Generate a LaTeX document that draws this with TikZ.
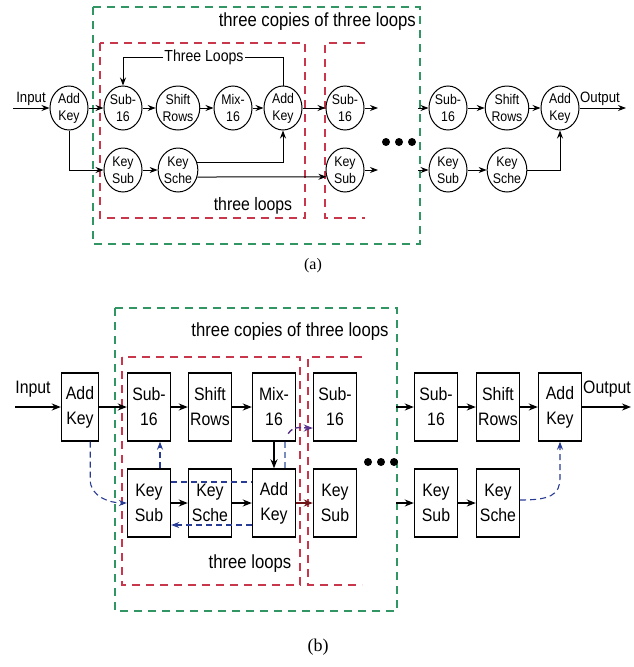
\documentclass[tikz,border=0pt]{standalone}
\usepackage{fontspec}
\setmainfont{Liberation Sans}[FakeStretch=0.88]
\newfontfamily\capfont{Liberation Serif}
\usetikzlibrary{shapes.geometric,arrows.meta}
\definecolor{grn}{RGB}{50,150,100}
\definecolor{rd}{RGB}{200,55,75}
\definecolor{blu}{RGB}{40,60,150}
\definecolor{lblu}{RGB}{120,140,190}
\definecolor{purp}{RGB}{90,50,140}
\definecolor{dred}{RGB}{110,20,25}
\tikzset{
  circ/.style={ellipse, draw, line width=1pt, minimum width=38pt, minimum height=44pt,
    inner sep=0pt, align=center, font=\fontsize{14}{17}\selectfont},
  blk/.style={rectangle, draw, line width=1.4pt, minimum width=43pt, minimum height=68pt,
    inner sep=0pt, align=center, font=\fontsize{18}{25}\selectfont},
  arra/.style={-{Stealth[length=8pt,width=6pt]}, line width=1pt},
  arrb/.style={-{Stealth[length=9pt,width=7pt]}, line width=1.4pt},
  gbox/.style={draw=grn, line width=1.5pt, dash pattern=on 8pt off 6pt},
  rbox/.style={draw=rd, line width=1.5pt, dash pattern=on 8pt off 6pt},
  bdash/.style={blu, line width=1.1pt, dash pattern=on 6pt off 4pt},
  lbl/.style={inner sep=1pt},
  dot/.style={circle, fill, inner sep=0pt, minimum size=8pt},
}
\begin{document}
\begin{tikzpicture}[x=1pt,y=-1pt]
\useasboundingbox (0,0) rectangle (634,667);

% ================= (a) =================
\draw[gbox] (93,7) rectangle (420,244);
\node[lbl, anchor=east, font=\fontsize{19}{21}\selectfont] (a-tc) at (417,22) {three copies of three loops};
\draw[rbox] (100,43) rectangle (305,218);
\draw[rbox] (365,43) -- (325,43) -- (325,218) -- (365,218);
\node[lbl, font=\fontsize{18}{20}\selectfont] (a-tl3) at (253,206) {three loops};

\node[circ] (a-ak)  at (69,108)  {Add\\Key};
\node[circ] (a-s1)  at (123,108) {Sub-\\16};
\node[circ] (a-sr)  at (178,108) {Shift\\Rows};
\node[circ] (a-mx)  at (233,108) {Mix-\\16};
\node[circ] (a-ak2) at (283,108) {Add\\Key};
\node[circ] (a-s2)  at (345,108) {Sub-\\16};
\node[circ] (a-ks)  at (123,170) {Key\\Sub};
\node[circ] (a-kc)  at (178,170) {Key\\Sche};
\node[circ] (a-ks2) at (345,170) {Key\\Sub};
\node[circ] (a-s3)  at (448,108) {Sub-\\16};
\node[circ] (a-sr3) at (507,108) {Shift\\Rows};
\node[circ] (a-ak3) at (560,108) {Add\\Key};
\node[circ] (a-ks3) at (448,170) {Key\\Sub};
\node[circ] (a-kc3) at (507,170) {Key\\Sche};

\coordinate (a-in) at (13,108);
\coordinate (a-out) at (626,108);
\node[lbl, font=\fontsize{15}{17}\selectfont] (a-inl) at (31,99) {Input};
\node[lbl, font=\fontsize{15}{17}\selectfont] (a-outl) at (600,99) {Output};
\coordinate (a-e1) at (378,108);
\coordinate (a-e2) at (378,170);
\coordinate (a-i1) at (418,108);
\coordinate (a-i2) at (418,170);

\draw[arra] (a-in) -- (a-ak);
\draw[arra] (a-ak) -- (a-s1);
\draw[arra] (a-s1) -- (a-sr);
\draw[arra] (a-sr) -- (a-mx);
\draw[arra] (a-mx) -- (a-ak2);
\draw[arra] (a-ak2) -- (a-s2);
\draw[arra] (a-s2) -- (a-e1);
\draw[arra] (a-ak.south) |- (a-ks.west);
\draw[arra] (a-ks) -- (a-kc);
\draw[arra] (a-kc.20) -| (a-ak2.south);
\draw[arra] (a-kc.-20) -- (a-ks2.200);
\draw[arra] (a-ks2) -- (a-e2);
\node[lbl, font=\fontsize{16}{18}\selectfont] (a-tl) at (204,57) {Three Loops};
\draw[line width=1pt] (a-ak2.north) |- (a-tl.east);
\draw[arra] (a-tl.west) -| (a-s1.north);

\draw[arra] (a-i1) -- (a-s3);
\draw[arra] (a-s3) -- (a-sr3);
\draw[arra] (a-sr3) -- (a-ak3);
\draw[arra] (a-ak3) -- (a-out);
\draw[arra] (a-i2) -- (a-ks3);
\draw[arra] (a-ks3) -- (a-kc3);
\draw[arra] (a-kc3.east) -| (a-ak3.south);

\node[dot] (a-d1) at (386,142) {};
\node[dot] (a-d2) at (399,142) {};
\node[dot] (a-d3) at (412,142) {};

\node[font=\capfont\fontsize{16}{18}\selectfont] (a-cap) at (313,266) {(a)};

% ================= (b) =================
\draw[gbox] (115,308) rectangle (397,611);
\node[lbl, font=\fontsize{19}{21}\selectfont] (b-tc) at (290,332) {three copies of three loops};
\draw[rbox] (122,357) rectangle (300,585);
\draw[rbox] (362,357) -- (308,357) -- (308,585) -- (362,585);
\node[lbl, font=\fontsize{19}{21}\selectfont] (b-tl3) at (250,564) {three loops};

\node[blk, minimum width=37pt] (b-ak) at (80,407) {Add\\Key};
\node[blk] (b-s1)  at (149,407) {Sub-\\16};
\node[blk] (b-sr)  at (210,407) {Shift\\Rows};
\node[blk] (b-mx)  at (274,407) {Mix-\\16};
\node[blk] (b-s2)  at (335,407) {Sub-\\16};
\node[blk] (b-ks)  at (149,503) {Key\\Sub};
\node[blk] (b-kc)  at (210,503) {Key\\Sche};
\node[blk] (b-ak2) at (274,503) {Add\\Key};
\node[blk] (b-ks2) at (335,503) {Key\\Sub};
\node[blk] (b-s3)  at (436,407) {Sub-\\16};
\node[blk] (b-sr3) at (498,407) {Shift\\Rows};
\node[blk] (b-ak3) at (560,407) {Add\\Key};
\node[blk] (b-ks3) at (436,503) {Key\\Sub};
\node[blk] (b-kc3) at (498,503) {Key\\Sche};

\coordinate (b-in) at (15,407);
\coordinate (b-out) at (631,407);
\node[lbl, font=\fontsize{18}{20}\selectfont] (b-inl) at (33,389) {Input};
\node[lbl, font=\fontsize{18}{20}\selectfont] (b-outl) at (607,389) {Output};
\coordinate (b-i1) at (396,407);
\coordinate (b-i2) at (396,503);

\draw[arrb] (b-in) -- (b-ak);
\draw[arrb] (b-ak) -- (b-s1);
\draw[arrb] (b-s1) -- (b-sr);
\draw[arrb] (b-sr) -- (b-mx);
\draw[arrb] (b-mx) -- (b-ak2);
\draw[arrb] (b-ks) -- (b-kc);
\draw[arrb] (b-kc) -- (b-ak2);
\draw[arrb, dred] (b-ak2) -- (b-ks2);
\draw[arrb, purp, dash pattern=on 6pt off 3pt] ([xshift=-8pt,yshift=8pt]b-mx.south east)
   to[out=60,in=180] ([yshift=-21pt]b-s2.west);

% blue dashed connectors
\draw[bdash, -{Stealth[length=8pt,width=6pt]}] ([xshift=-9pt]b-ak.south east)
   -- ([xshift=-9pt,yshift=-38pt]b-ak.south east) to[out=-90,in=180] (b-ks.west);
\draw[bdash, -{Stealth[length=8pt,width=6pt]}] ([xshift=11pt]b-ks.north) -- ([xshift=11pt]b-s1.south);
\draw[bdash] ([yshift=21pt]b-ks.east) -- ([yshift=21pt]b-ak2.west);
\draw[bdash, -{Stealth[length=8pt,width=6pt]}] ([yshift=-22pt]b-ak2.west) -- ([yshift=-22pt]b-ks.east);
\draw[lblu, line width=1.1pt, dash pattern=on 6pt off 4pt] ([xshift=11pt]b-mx.south) -- ([xshift=11pt]b-ak2.north);

\draw[arrb] (b-i1) -- (b-s3);
\draw[arrb] (b-s3) -- (b-sr3);
\draw[arrb] (b-sr3) -- (b-ak3);
\draw[arrb] (b-ak3) -- (b-out);
\draw[arrb] (b-i2) -- (b-ks3);
\draw[arrb] (b-ks3) -- (b-kc3);
\draw[bdash, -{Stealth[length=8pt,width=6pt]}] ([yshift=3pt]b-kc3.east)
   .. controls (550,500) and (560,495) .. (560,478) -- (b-ak3.south);

\node[dot] (b-d1) at (368,462) {};
\node[dot] (b-d2) at (381,462) {};
\node[dot] (b-d3) at (394,462) {};

\node[font=\capfont\fontsize{18}{20}\selectfont] (b-cap) at (318,647) {(b)};
\end{tikzpicture}
\end{document}
